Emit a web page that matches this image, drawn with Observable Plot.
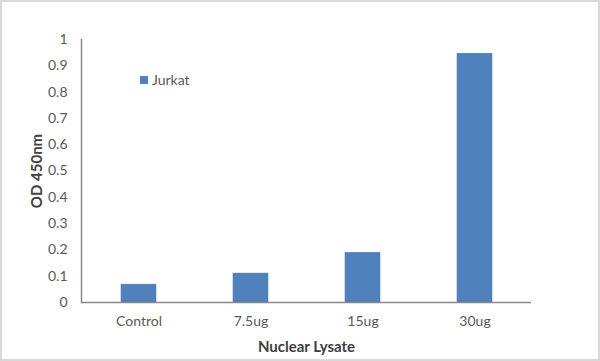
<!DOCTYPE html>
<html>
<head>
<meta charset="utf-8">
<script src="https://cdn.jsdelivr.net/npm/d3@7"></script>
<script src="https://cdn.jsdelivr.net/npm/@observablehq/plot@0.6"></script>
<style>
  html, body { margin: 0; padding: 0; background: #fff; }
  #wrap { position: relative; width: 600px; height: 361px; overflow: hidden; font-family: Lato, "Open Sans", sans-serif; }
  #frame { position: absolute; left: 0; top: 0; width: 596px; height: 357px; border: 2px solid #d9d9d9; pointer-events: none; }
  #legend { position: absolute; left: 140px; top: 71px; font-size: 14px; color: #595959; display: flex; align-items: center; }
  #legend .sw { width: 8px; height: 8px; background: #4f81bd; margin-right: 4px; }
</style>
</head>
<body>
<div id="wrap">
  <div id="chart"></div>
  <div id="legend"><span class="sw"></span><span id="legendText"></span></div>
  <div id="frame"></div>
</div>
<script>
const categories = ["Control", "7.5ug", "15ug", "30ug"];
const jurkat = [0.068, 0.110, 0.189, 0.946];
const yTicks = [0, 0.1, 0.2, 0.3, 0.4, 0.5, 0.6, 0.7, 0.8, 0.9, 1];
const seriesName = "Jurkat";
const xTitle = "Nuclear Lysate";
const yTitle = "OD 450nm";

const data = categories.map((c, i) => ({category: c, value: jurkat[i]}));
document.getElementById("legendText").textContent = seriesName;

const plot = Plot.plot({
  width: 600,
  height: 361,
  marginLeft: 81,
  marginRight: 69,
  marginTop: 39,
  marginBottom: 59,
  style: {fontFamily: "Lato, 'Open Sans', sans-serif", fontSize: "14px", color: "#595959", background: "#fff"},
  x: {domain: categories, paddingInner: 0.69, paddingOuter: 0.345, align: 0.5},
  y: {domain: [0, 1]},
  marks: [
    Plot.barY(data, {x: "category", y: "value", fill: "#4f81bd", stroke: "#4a7ab3", strokeWidth: 0.5}),
    Plot.ruleY([0], {stroke: "#898989", strokeWidth: 1.5}),
    Plot.frame({anchor: "left", stroke: "#898989", strokeWidth: 1.5}),
    Plot.axisY({
      ticks: yTicks,
      tickSize: 0,
      tickPadding: 14,
      tickFormat: d => String(+d.toFixed(1)),
      fontSize: 14,
      label: yTitle,
      labelAnchor: "center",
      labelArrow: "none",
      labelOffset: 50
    }),
    Plot.axisX({
      tickSize: 0,
      tickPadding: 14,
      fontSize: 14,
      label: xTitle,
      labelAnchor: "center",
      labelArrow: "none",
      labelOffset: 49
    })
  ]
});
document.getElementById("chart").appendChild(plot);
// style axis titles bold
plot.querySelectorAll("g[aria-label='y-axis label'] text, g[aria-label='x-axis label'] text").forEach(t => {
  t.setAttribute("font-weight", "bold");
  t.setAttribute("font-size", "15");
  t.setAttribute("fill", "#404040");
});
</script>
</body>
</html>
